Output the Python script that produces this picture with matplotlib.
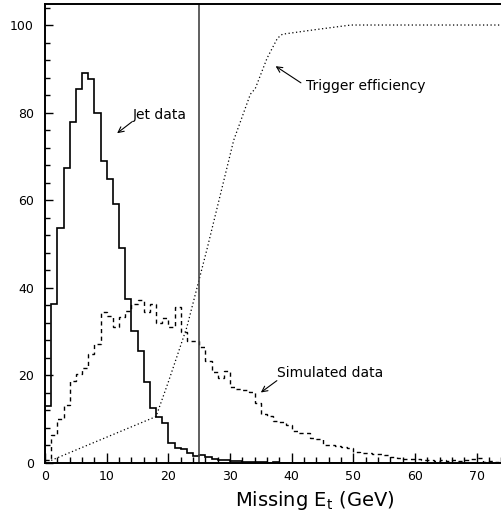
import numpy as np
import matplotlib
matplotlib.use("Agg")
import matplotlib.pyplot as plt
from matplotlib.ticker import MultipleLocator

# ---- data ----
jet_data = [13.0, 36.3, 53.6, 67.3, 77.8, 85.5, 89.0, 87.6, 80.0, 69.0,
            64.8, 59.1, 49.0, 37.4, 30.1, 25.6, 18.6, 12.5, 10.6, 9.2,
            4.5, 3.5, 3.3, 2.2, 1.7, 1.8, 1.3, 1.0, 0.6, 0.6,
            0.4, 0.4, 0.3, 0.3, 0.2, 0.2, 0.1, 0.2, 0.1, 0.1,
            0.1, 0.1, 0.1, 0.0, 0.1, 0.0, 0.0, 0.1, 0.0, 0.0]

simulated = [0.7, 6.3, 10.0, 13.3, 18.8, 20.3, 21.8, 25.0, 27.2, 34.5,
             33.5, 31.1, 33.3, 34.8, 36.3, 37.2, 34.5, 36.3, 32.0, 33.0,
             31.0, 35.7, 30.0, 27.9, 27.9, 26.4, 23.3, 20.8, 19.3, 21.1,
             17.4, 17.0, 16.6, 16.3, 13.6, 11.3, 10.8, 9.6, 9.4, 8.7,
             7.4, 6.9, 6.8, 5.8, 5.4, 4.1, 4.0, 3.8, 3.6, 3.4,
             2.4, 2.3, 2.2, 2.1, 2.0, 1.9, 1.3, 1.2, 0.9, 0.9,
             1.0, 0.6, 0.6, 0.5, 0.6, 0.5, 0.6, 0.4, 0.7, 0.8,
             1.2, 0.2, 0.4, 0.3, 0.5]

trig_x = [1.0, 18.0, 20.0, 23.0, 26.3, 30.6, 33.3, 34.1, 36.0, 37.7, 38.5, 43.6, 49.6, 75.0]
trig_y = [0.6, 10.6, 18.5, 31.0, 49.0, 73.7, 84.2, 85.5, 92.4, 97.0, 97.9, 98.9, 100.0, 100.0]

cut_value = 25.0
x_ticks = [0, 10, 20, 30, 40, 50, 60, 70]
y_ticks = [0, 20, 40, 60, 80, 100]

# ---- figure ----
W, H = 501, 519
fig = plt.figure(figsize=(W / 100, H / 100), dpi=100)
ax = fig.add_axes([45 / W, (H - 463) / H, 462.5 / W, 459 / H])
ax.set_xlim(0, 75)
ax.set_ylim(0, 104.8)

jet_edges = np.arange(len(jet_data) + 1)
sim_edges = np.arange(len(simulated) + 1)
ax.stairs(jet_data, jet_edges, color="black", lw=1.2, baseline=0)
ax.stairs(simulated, sim_edges, color="black", lw=1.0, linestyle=(0, (3, 2.5)), baseline=None)
ax.plot(trig_x, trig_y, color="black", lw=0.9, linestyle=(0, (1, 2)))
ax.axvline(cut_value, color="#444444", lw=1.2)

for s in ax.spines.values():
    s.set_linewidth(1.4)

ax.set_xticks(x_ticks)
ax.set_yticks(y_ticks)
ax.xaxis.set_minor_locator(MultipleLocator(2))
ax.yaxis.set_minor_locator(MultipleLocator(4))
ax.tick_params(which="both", direction="in", top=False, right=False, labelsize=9, width=1.0)
ax.tick_params(axis="x", which="major", length=7, pad=5)
ax.tick_params(axis="x", which="minor", length=4)
ax.tick_params(axis="y", which="major", length=6, pad=8)
ax.tick_params(axis="y", which="minor", length=3.5)

arrow = dict(arrowstyle="->", lw=0.8, color="black", shrinkA=0, shrinkB=0,
             mutation_scale=10)
ax.annotate("", xy=(11.7, 75.3), xytext=(14.1, 77.9), arrowprops=arrow)
ax.text(14.3, 79.5, "Jet data", fontsize=10, va="center", ha="left")
ax.annotate("", xy=(37.4, 90.6), xytext=(41.5, 86.8), arrowprops=arrow)
ax.text(42.4, 86.1, "Trigger efficiency", fontsize=10, va="center", ha="left")
ax.annotate("", xy=(35.0, 16.1), xytext=(37.6, 18.8), arrowprops=arrow)
ax.text(37.7, 20.5, "Simulated data", fontsize=10, va="center", ha="left")

fig.text(315 / W, 1 - 500 / H, r"Missing E$_\mathregular{t}$ (GeV)", fontsize=14,
         ha="center", va="center")

fig.savefig("out.png", dpi=100)
